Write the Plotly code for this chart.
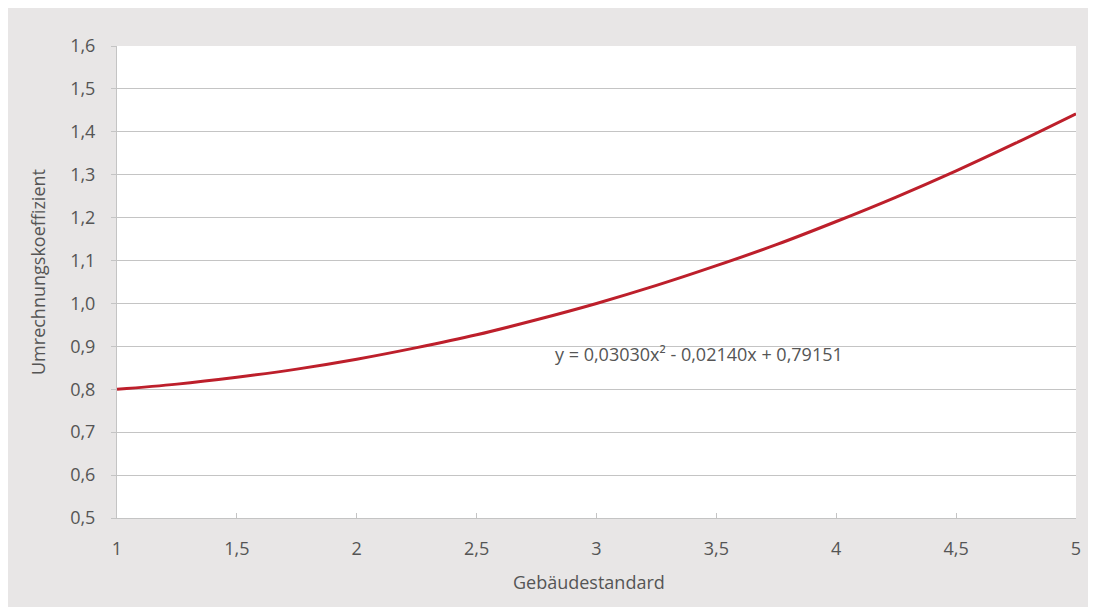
import plotly.graph_objects as go

# Values (Gebäudestandard vs. Umrechnungskoeffizient)
x_vals = [1.0, 1.25, 1.5, 1.75, 2.0, 2.25, 2.5, 2.75, 3.0, 3.25, 3.5, 3.75, 4.0, 4.25, 4.5, 4.75, 5.0]
y_vals = [0.800, 0.812, 0.828, 0.847, 0.870, 0.897, 0.927, 0.962, 1.000, 1.042, 1.088, 1.137, 1.191, 1.248, 1.309, 1.374, 1.442]

x_ticks = [1, 1.5, 2, 2.5, 3, 3.5, 4, 4.5, 5]
x_tick_labels = ["1", "1,5", "2", "2,5", "3", "3,5", "4", "4,5", "5"]
y_ticks = [0.5, 0.6, 0.7, 0.8, 0.9, 1.0, 1.1, 1.2, 1.3, 1.4, 1.5, 1.6]
y_tick_labels = ["0,5", "0,6", "0,7", "0,8", "0,9", "1,0", "1,1", "1,2", "1,3", "1,4", "1,5", "1,6"]

equation = "y = 0,03030x² - 0,02140x + 0,79151"

FONT = "Open Sans"
TXT = "#555555"
GRID = "#c4c4c4"
BG = "#e8e6e6"

W, H = 1096, 607
L, R, T, B = 109, 1068, 38, 510
pw, ph = R - L, B - T

fig = go.Figure()
fig.add_trace(go.Scatter(
    x=x_vals, y=y_vals, mode="lines",
    line=dict(color="#bd1f2b", width=3, shape="spline"),
    showlegend=False, hoverinfo="skip",
))

fig.add_annotation(x=2.82, y=0.883, xref="x", yref="y", text=equation,
                   showarrow=False, xanchor="left", yanchor="middle",
                   font=dict(family=FONT, size=18, color=TXT))
fig.add_annotation(x=(581 - L) / pw, y=(B - 574) / ph, xref="paper", yref="paper",
                   text="Gebäudestandard", showarrow=False,
                   xanchor="center", yanchor="middle",
                   font=dict(family=FONT, size=18, color=TXT))
fig.add_annotation(x=(30 - L) / pw, y=(B - 264) / ph, xref="paper", yref="paper",
                   text="Umrechnungskoeffizient", showarrow=False, textangle=-90,
                   xanchor="center", yanchor="middle",
                   font=dict(family=FONT, size=18, color=TXT))

fig.update_layout(
    width=W, height=H,
    margin=dict(l=L, r=W - R, t=T, b=H - B),
    paper_bgcolor=BG, plot_bgcolor="white",
    font=dict(family=FONT, size=18, color=TXT),
    xaxis=dict(range=[1, 5], tickvals=x_ticks, ticktext=x_tick_labels,
               showgrid=False, zeroline=False, showline=True, linecolor=GRID,
               linewidth=1, ticks="inside", ticklen=5, tickcolor=GRID,
               ticklabelstandoff=14, tickfont=dict(family=FONT, size=18, color=TXT)),
    yaxis=dict(range=[0.5, 1.6], tickvals=y_ticks, ticktext=y_tick_labels,
               showgrid=True, gridcolor=GRID, gridwidth=1, zeroline=False,
               showline=True, linecolor=GRID, linewidth=1,
               ticks="outside", ticklen=5, tickcolor=GRID,
               ticklabelstandoff=12, tickfont=dict(family=FONT, size=18, color=TXT)),
)

fig.write_html("out.html",
               post_script="document.documentElement.style.overflow='hidden';"
                           "document.body.style.overflow='hidden';")
